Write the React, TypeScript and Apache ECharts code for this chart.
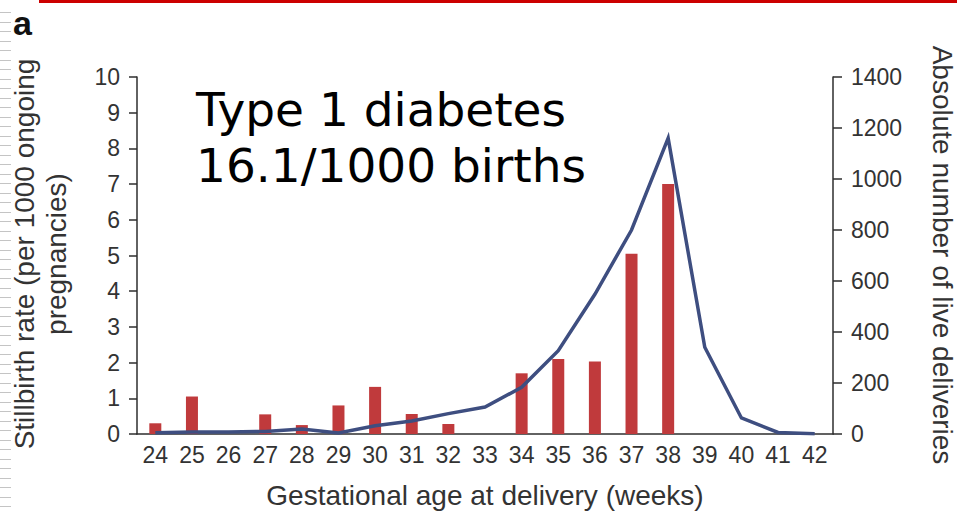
import React, { useEffect, useRef } from "react";
import * as echarts from "echarts";

// ---- data ----
const weeks = ["24", "25", "26", "27", "28", "29", "30", "31", "32", "33", "34", "35", "36", "37", "38", "39", "40", "41", "42"];
const stillbirthRate = [0.3, 1.05, 0, 0.55, 0.25, 0.8, 1.32, 0.56, 0.28, 0, 1.7, 2.1, 2.03, 5.05, 7.0, 0, 0, 0, 0];
const liveDeliveries = [5, 8, 8, 10, 20, 4, 32, 51, 80, 106, 183, 327, 548, 800, 1160, 340, 63, 6, 1];
const leftAxisRange = { min: 0, max: 10, interval: 1 };
const rightAxisRange = { min: 0, max: 1400, interval: 200 };

const leftTitle = "Stillbirth rate (per 1000 ongoing\npregnancies)";
const rightTitle = "Absolute number of live deliveries";
const xTitle = "Gestational age at delivery (weeks)";
const noteLines = ["Type 1 diabetes", "16.1/1000 births"];
const panelLabel = "a";

const SANS = "'Liberation Sans', Arial, Helvetica, sans-serif";
const VERDANA = "'DejaVu Sans', Verdana, sans-serif";

export default function App() {
  const ref = useRef<HTMLDivElement>(null);

  useEffect(() => {
    if (!ref.current) return;
    const chart = echarts.init(ref.current, undefined, { renderer: "svg" });

    const stripes: any[] = [];
    for (let y = 12; y < 513; y += 9.5) {
      stripes.push({
        type: "rect",
        shape: { x: 0, y: Math.round(y), width: 11, height: 1 },
        style: { fill: "#c4c4c4" },
        silent: true,
      });
    }

    const axisLineStyle = { color: "#2e2e2e", width: 1.5 };
    const labelStyle = { color: "#333", fontSize: 23, fontFamily: SANS };

    chart.setOption({
      animation: false,
      backgroundColor: "#ffffff",
      grid: { left: 137, right: 124, top: 77, bottom: 79 },
      xAxis: {
        type: "category",
        data: weeks,
        boundaryGap: true,
        axisLine: { lineStyle: axisLineStyle },
        axisTick: { show: false },
        axisLabel: { ...labelStyle, margin: 9, interval: 0 },
        splitLine: { show: false },
      },
      yAxis: [
        {
          type: "value",
          position: "left",
          ...leftAxisRange,
          axisLine: { show: true, lineStyle: axisLineStyle },
          axisTick: { show: true, inside: false, length: 8, lineStyle: axisLineStyle },
          axisLabel: { ...labelStyle, margin: 17 },
          splitLine: { show: false },
        },
        {
          type: "value",
          position: "right",
          ...rightAxisRange,
          axisLine: { show: true, lineStyle: axisLineStyle },
          axisTick: { show: true, inside: false, length: 9, lineStyle: axisLineStyle },
          axisLabel: { ...labelStyle, margin: 18, formatter: (v: number) => String(v) },
          splitLine: { show: false },
        },
      ],
      series: [
        {
          type: "bar",
          yAxisIndex: 0,
          data: stillbirthRate,
          barWidth: 12,
          itemStyle: { color: "#c03a3c" },
          z: 2,
        },
        {
          type: "line",
          yAxisIndex: 1,
          data: liveDeliveries,
          symbol: "none",
          smooth: false,
          lineStyle: { color: "#3e4e80", width: 3.5, join: "miter" },
          z: 3,
        },
      ],
      graphic: [
        ...stripes,
        {
          type: "rect",
          shape: { x: 39, y: 0, width: 918, height: 3 },
          style: { fill: "#cc0000" },
          silent: true,
        },
        {
          type: "text",
          x: 13,
          y: 23,
          style: { text: panelLabel, font: `bold 34px ${SANS}`, fill: "#111", align: "left", verticalAlign: "middle" },
        },
        {
          type: "text",
          x: 40,
          y: 254,
          rotation: Math.PI / 2,
          style: {
            text: leftTitle,
            font: `28px ${SANS}`,
            lineHeight: 32,
            fill: "#333",
            align: "center",
            verticalAlign: "middle",
          },
        },
        {
          type: "text",
          x: 942,
          y: 255,
          rotation: -Math.PI / 2,
          style: { text: rightTitle, font: `28px ${SANS}`, fill: "#333", align: "center", verticalAlign: "middle" },
        },
        {
          type: "text",
          x: 485,
          y: 495,
          style: { text: xTitle, font: `28px ${SANS}`, fill: "#333", align: "center", verticalAlign: "middle" },
        },
        {
          type: "text",
          x: 196,
          y: 109,
          style: { text: noteLines[0], font: `47px ${VERDANA}`, fill: "#000", align: "left", verticalAlign: "middle" },
        },
        {
          type: "text",
          x: 196,
          y: 165,
          style: { text: noteLines[1], font: `47px ${VERDANA}`, fill: "#000", align: "left", verticalAlign: "middle" },
        },
      ],
    });

    return () => chart.dispose();
  }, []);

  return <div ref={ref} style={{ position: "absolute", left: 0, top: 0, width: 957, height: 513 }} />;
}
